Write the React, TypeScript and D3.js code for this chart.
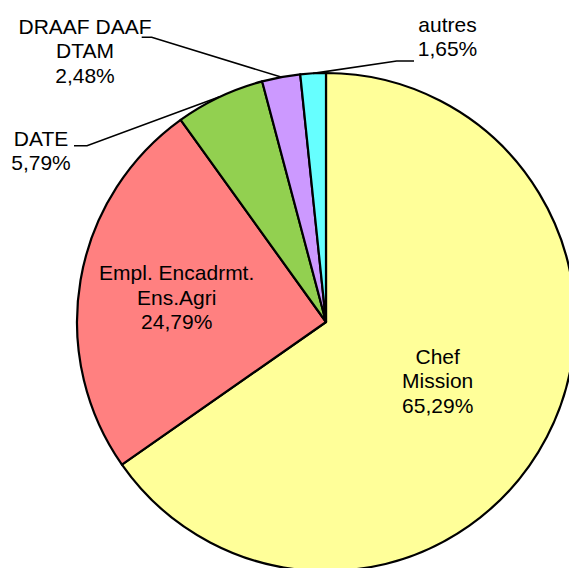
import React from "react";
import * as d3 from "d3";

const categories = ["Chef Mission", "Empl. Encadrmt. Ens.Agri", "DATE", "DRAAF DAAF DTAM", "autres"];
const values = [65.29, 24.79, 5.79, 2.48, 1.65];
const labelLines = [
  ["Chef", "Mission", "65,29%"],
  ["Empl. Encadrmt.", "Ens.Agri", "24,79%"],
  ["DATE", "5,79%"],
  ["DRAAF DAAF", "DTAM", "2,48%"],
  ["autres", "1,65%"],
];
const colors = ["#FFFF99", "#FF8080", "#92D050", "#CC99FF", "#66FFFF"];

const W = 569;
const H = 568;
const CX = 326;
const CY = 322;
const R = 249;
const FONT = 21;
const LH = 24.5;

const labelPos = [
  { x: 437.7, y: 363.5 },
  { x: 176.7, y: 280.2 },
  { x: 41, y: 145.8 },
  { x: 85, y: 33.5 },
  { x: 447.5, y: 31.8 },
];
const leaders: (null | { x1: number; x2: number; y: number })[] = [
  null,
  null,
  { x1: 74, x2: 87, y: 145.7 },
  { x1: 141.7, x2: 151.7, y: 37.3 },
  { x1: 414, x2: 396.7, y: 61 },
];

export default function App() {
  const pie = d3.pie<number>().sort(null).value((d) => d);
  const arcs = pie(values);
  const arc = d3.arc<d3.PieArcDatum<number>>().innerRadius(0).outerRadius(R);
  const edge = d3.arc<d3.PieArcDatum<number>>().innerRadius(R).outerRadius(R);

  return (
    <svg
      width={W}
      height={H}
      style={{ position: "absolute", left: 0, top: 0, background: "#fff" }}
      fontFamily="'Liberation Sans', Arial, sans-serif"
      fontSize={FONT}
    >
      <g transform={`translate(${CX},${CY})`}>
        {arcs.map((a, i) => (
          <path key={categories[i]} d={arc(a) || ""} fill={colors[i]} stroke="#000" strokeWidth={2.2} strokeLinejoin="round" />
        ))}
      </g>
      {arcs.map((a, i) => {
        const ld = leaders[i];
        if (!ld) return null;
        const [ex, ey] = edge.centroid(a);
        return (
          <polyline
            key={"l" + i}
            points={`${ld.x1},${ld.y} ${ld.x2},${ld.y} ${CX + ex},${CY + ey}`}
            fill="none"
            stroke="#000"
            strokeWidth={1.6}
          />
        );
      })}
      {labelLines.map((lines, i) => (
        <text key={"t" + i} textAnchor="middle" fill="#000">
          {lines.map((s, j) => (
            <tspan key={j} x={labelPos[i].x} y={labelPos[i].y + j * LH}>
              {s}
            </tspan>
          ))}
        </text>
      ))}
    </svg>
  );
}
